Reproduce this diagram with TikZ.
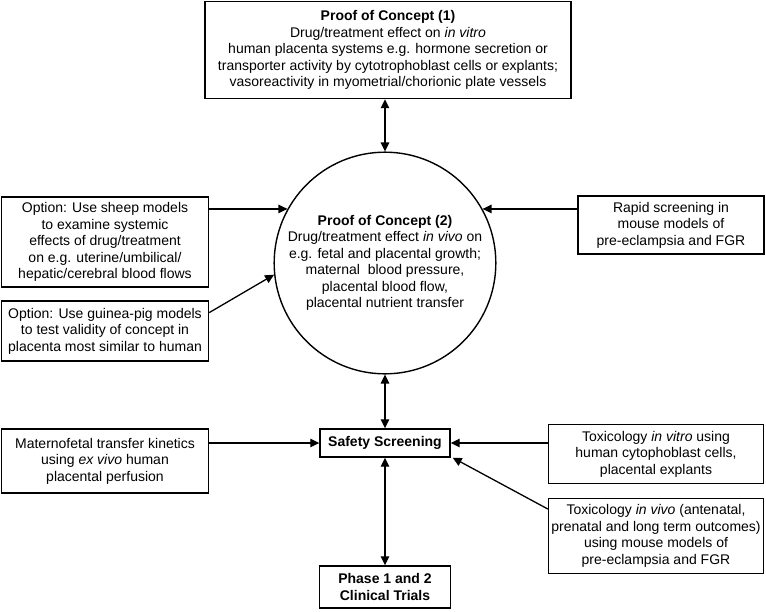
\documentclass[tikz,border=0pt]{standalone}
\usepackage{fontspec}
\setmainfont{Liberation Sans}
\usetikzlibrary{arrows.meta}
\begin{document}
\begin{tikzpicture}[x=1pt,y=-1pt]
            \tikzstyle{box}=[draw, line width=1.4pt, align=center, inner sep=2pt, font=\fontsize{14}{16.5}\selectfont]
            \tikzstyle{arr}=[line width=1.3pt, -{Triangle[length=9pt,width=8.5pt]}]
            \tikzstyle{darr}=[line width=1.3pt, {Triangle[length=9pt,width=8.5pt]}-{Triangle[length=9pt,width=8.5pt]}]
            \useasboundingbox (0,0) rectangle (766,611);
            \node[box, minimum width=366pt, minimum height=97pt] (P1) at (388,50) {\textbf{Proof of Concept (1)}\\Drug/treatment effect on \textit{in vitro}\\human placenta systems e.g. hormone secretion or\\transporter activity by cytotrophoblast cells or explants;\\vasoreactivity in myometrial/chorionic plate vessels};
            \node[box, circle, minimum size=220pt] (P2) at (385,263) {\textbf{Proof of Concept (2)}\\Drug/treatment effect \textit{in vivo} on\\e.g. fetal and placental growth;\\maternal\ \ blood pressure,\\placental blood flow,\\placental nutrient transfer};
            \node[box, minimum width=207pt, minimum height=90pt] (L1) at (105,242) {Option: Use sheep models\\to examine systemic\\effects of drug/treatment\\on e.g. uterine/umbilical/\\hepatic/cerebral blood flows};
            \node[box, minimum width=207pt, minimum height=60pt] (L2) at (105,331) {Option: Use guinea-pig models\\to test validity of concept in\\placenta most similar to human};
            \node[box, minimum width=186pt, minimum height=58pt] (R1) at (671,225) {Rapid screening in\\mouse models of\\pre-eclampsia and FGR};
            \node[box, minimum width=130pt, minimum height=28pt] (S) at (385,443) {\textbf{Safety Screening}};
            \node[box, minimum width=207pt, minimum height=64pt] (L3) at (105,461) {Maternofetal transfer kinetics\\using \textit{ex vivo} human\\placental perfusion};
            \node[box, minimum width=215pt, minimum height=59pt] (R2) at (656,454) {Toxicology \textit{in vitro} using\\human cytophoblast cells,\\placental explants};
            \node[box, minimum width=215pt, minimum height=75pt] (R3) at (656,536) {Toxicology \textit{in vivo} (antenatal,\\prenatal and long term outcomes)\\using mouse models of\\pre-eclampsia and FGR};
            \node[box, minimum width=131pt, minimum height=42pt] (C) at (385,587) {\textbf{Phase 1 and 2}\\\textbf{Clinical Trials}};
            \path [darr] (P2.north |- P1.south) edge[] (P2.north);
            \path [darr] (P2) edge[] (S);
            \path [darr] (S) edge[] (C);
            \path [arr] (L1.east |- P2.151) edge[] (P2.151);
            \path [arr] (L2.10) edge[] (P2.186);
            \path [arr] (R1.west |- P2.29) edge[] (P2.29);
            \path [arr] (L3.east |- S.west) edge[] (S.west);
            \path [arr] (R2.west |- S.east) edge[] (S.east);
            \path [arr] ([yshift=27pt]R3.west) edge[] ([xshift=2pt]S.south east);
        \end{tikzpicture}
\end{document}
